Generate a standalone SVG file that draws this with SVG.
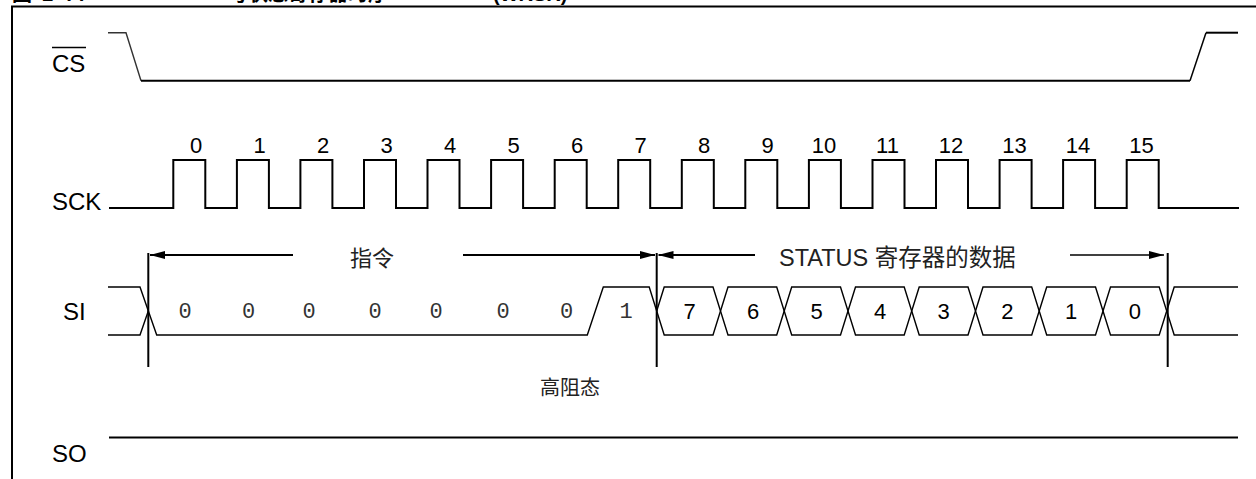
<svg xmlns="http://www.w3.org/2000/svg" width="1256" height="479" viewBox="0 0 1256 479">
<style>
.wave{fill:none;stroke:#000;stroke-width:2;stroke-linejoin:miter}
.thin{fill:none;stroke:#000;stroke-width:1.4}
.lbl{font-family:"Liberation Sans",Arial,sans-serif;font-size:24px;fill:#000}
.num{font-family:"Liberation Sans",Arial,sans-serif;font-size:22px;fill:#000;text-anchor:middle}
.mono{font-family:"Liberation Mono","DejaVu Sans Mono",monospace;font-size:22px;fill:#333;text-anchor:middle}
.cjk{font-family:"Liberation Sans","Noto Sans CJK SC",sans-serif;font-size:23px;fill:#222}
.title{font-family:"Liberation Sans","Noto Sans CJK SC",sans-serif;font-size:20px;font-weight:bold;fill:#000}
.mark{stroke:#000;stroke-width:2}
.arr{stroke:#000;stroke-width:2;fill:none}
</style>
<defs>
<marker id="ah" viewBox="0 0 15 8" refX="15" refY="4" markerWidth="15" markerHeight="8" markerUnits="userSpaceOnUse" orient="auto">
<path d="M0 0 L15 4 L0 8 Z" fill="#000"/>
</marker>
</defs>

<g id="frame">
<path d="M12 479 V6.5 H1256" fill="none" stroke="#000" stroke-width="2"/>
<text class="title" x="12" y="1" textLength="73">图 2-7:</text>
<text class="title" x="228" y="1">写状态寄存器时序</text>
<text class="title" x="493" y="1">(WRSR)</text>
</g>

<g id="cs">
<text class="lbl" x="52" y="71.5">CS</text>
<line x1="52" y1="47.5" x2="86" y2="47.5" stroke="#000" stroke-width="1.5"/>
<path d="M108 32.7 H126 L141 80.7" fill="none" stroke="#333" stroke-width="1.4"/>
<path class="wave" d="M141 80.7 H1190"/>
<path d="M1190 80.7 L1206 32.7" fill="none" stroke="#000" stroke-width="1.5"/>
<path class="wave" d="M1206 32.7 H1238"/>
</g>

<g id="sck">
<text class="lbl" x="52" y="210">SCK</text>
<path class="wave" d="M109 208 H173.3 V160 H205.3 V208 H236.9 V160 H268.9 V208 H300.4 V160 H332.4 V208 H364 V160 H396 V208 H427.5 V160 H459.5 V208 H491.1 V160 H523.1 V208 H554.7 V160 H586.7 V208 H618.2 V160 H650.2 V208 H681.8 V160 H713.8 V208 H745.3 V160 H777.3 V208 H808.9 V160 H840.9 V208 H872.5 V160 H904.5 V208 H936 V160 H968 V208 H999.6 V160 H1031.6 V208 H1063.1 V160 H1095.1 V208 H1126.7 V160 H1158.7 V208 H1239"/>
<text class="num" x="196" y="153">0</text>
<text class="num" x="259.5" y="153">1</text>
<text class="num" x="323" y="153">2</text>
<text class="num" x="386.5" y="153">3</text>
<text class="num" x="450" y="153">4</text>
<text class="num" x="513.5" y="153">5</text>
<text class="num" x="577" y="153">6</text>
<text class="num" x="640.5" y="153">7</text>
<text class="num" x="704" y="153">8</text>
<text class="num" x="767.5" y="153">9</text>
<text class="num" x="824" y="153">10</text>
<text class="num" x="887.5" y="153">11</text>
<text class="num" x="951" y="153">12</text>
<text class="num" x="1014.5" y="153">13</text>
<text class="num" x="1078" y="153">14</text>
<text class="num" x="1141.5" y="153">15</text>
</g>

<g id="si">
<text class="lbl" x="63" y="320">SI</text>
<path class="thin" d="M108 287 H140 L156.7 335 H587.3 L603.3 287 H649.2 L656.7 311"/>
<path class="thin" d="M108 335 H140 L148.3 311"/>
<path class="thin" d="M656.7 311 L664.2 287 H713 L720.5 311 L713 335 H664.2 Z"/>
<path class="thin" d="M720.5 311 L728 287 H776.7 L784.2 311 L776.7 335 H728 Z"/>
<path class="thin" d="M784.2 311 L791.7 287 H840.5 L848 311 L840.5 335 H791.7 Z"/>
<path class="thin" d="M848 311 L855.5 287 H904.2 L911.7 311 L904.2 335 H855.5 Z"/>
<path class="thin" d="M911.7 311 L919.2 287 H968 L975.5 311 L968 335 H919.2 Z"/>
<path class="thin" d="M975.5 311 L983 287 H1031.7 L1039.2 311 L1031.7 335 H983 Z"/>
<path class="thin" d="M1039.2 311 L1046.7 287 H1095.5 L1103 311 L1095.5 335 H1046.7 Z"/>
<path class="thin" d="M1103 311 L1110.5 287 H1159.2 L1166.7 311 L1159.2 335 H1110.5 Z"/>
<path class="thin" d="M1166.7 311 L1174.2 287 H1238 M1166.7 311 L1174.2 335 H1238"/>
<text class="mono" x="185" y="318">0</text>
<text class="mono" x="248.5" y="318">0</text>
<text class="mono" x="309" y="318">0</text>
<text class="mono" x="375" y="318">0</text>
<text class="mono" x="436" y="318">0</text>
<text class="mono" x="503" y="318">0</text>
<text class="mono" x="566.7" y="318">0</text>
<text class="mono" x="626" y="318">1</text>
<text class="num" x="689.5" y="318.5">7</text>
<text class="num" x="753" y="318.5">6</text>
<text class="num" x="816.5" y="318.5">5</text>
<text class="num" x="880" y="318.5">4</text>
<text class="num" x="943.5" y="318.5">3</text>
<text class="num" x="1007.3" y="318.5">2</text>
<text class="num" x="1071.1" y="318.5">1</text>
<text class="num" x="1134.8" y="318.5">0</text>
</g>

<g id="so">
<text class="lbl" x="52" y="462">SO</text>
<path class="wave" d="M109 437.5 H1238"/>
<text class="cjk" x="540" y="395" style="font-size:20px">高阻态</text>
</g>

<g id="connectors">
<line class="mark" x1="148.3" y1="253" x2="148.3" y2="367"/>
<line class="mark" x1="656.7" y1="253" x2="656.7" y2="367"/>
<line class="mark" x1="1167.7" y1="253" x2="1167.7" y2="367"/>
<line class="arr" x1="293" y1="255" x2="150" y2="255" marker-end="url(#ah)"/>
<line class="arr" x1="463" y1="255" x2="655" y2="255" marker-end="url(#ah)"/>
<line class="arr" x1="755" y1="255" x2="658.5" y2="255" marker-end="url(#ah)"/>
<line x1="1070" y1="255" x2="1164" y2="255" stroke="#000" stroke-width="1.5" marker-end="url(#ah)"/>
<text class="cjk" x="350" y="266" style="font-size:22px">指令</text>
<text class="cjk" x="779" y="266" style="font-size:23.5px">STATUS 寄存器的数据</text>
</g>
</svg>
